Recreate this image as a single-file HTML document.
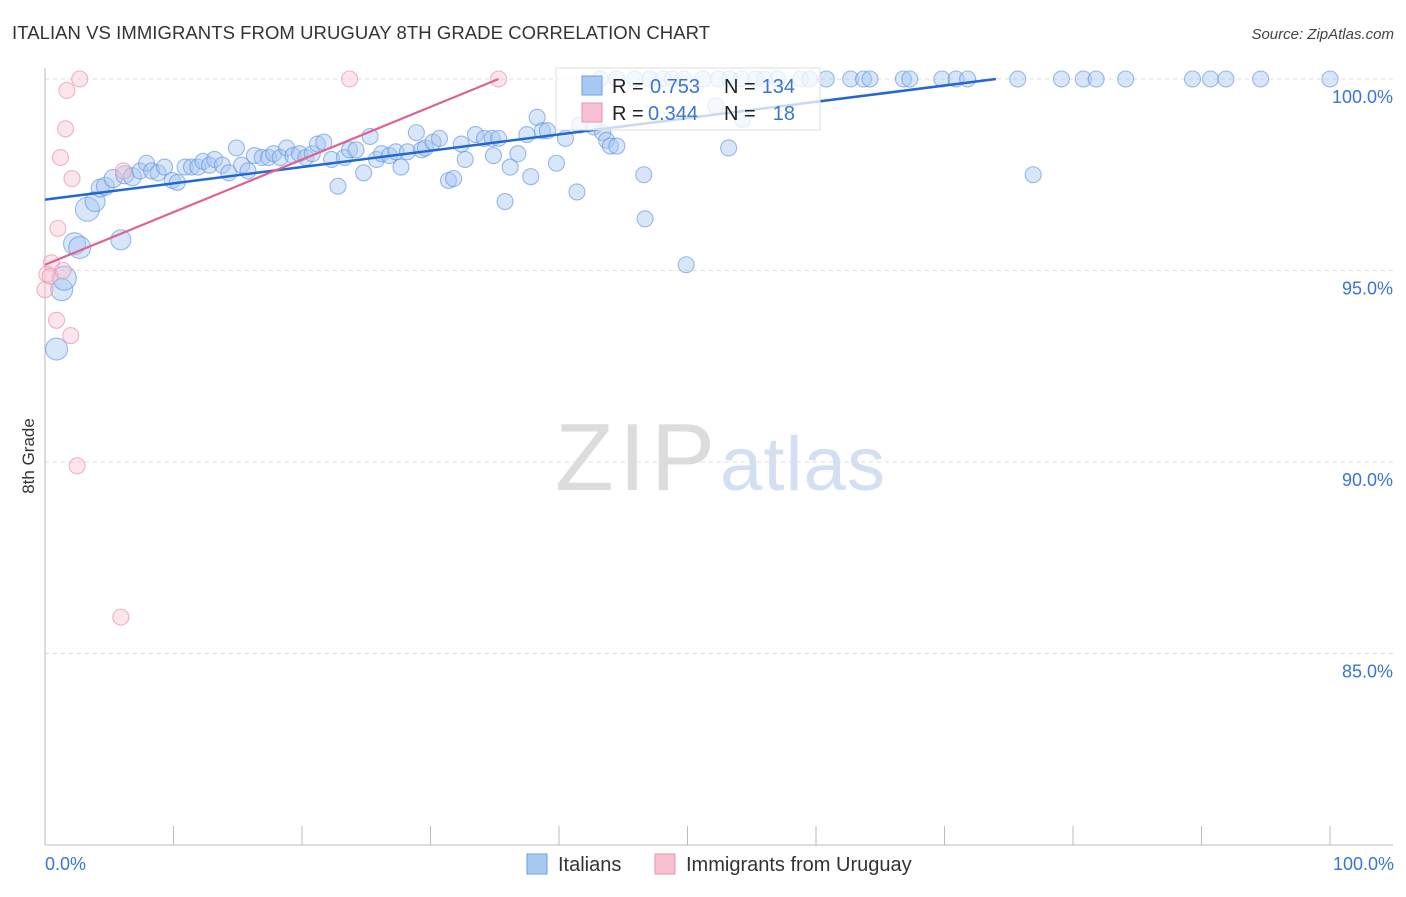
<!DOCTYPE html>
<html><head><meta charset="utf-8"><style>
body{margin:0;background:#fff;font-family:"Liberation Sans",sans-serif}
svg text{font-family:"Liberation Sans",sans-serif}
</style></head><body>
<svg width="1406" height="892" viewBox="0 0 1406 892" xmlns="http://www.w3.org/2000/svg">
<text x="12" y="39" font-size="18.5" fill="#333" textLength="698">ITALIAN VS IMMIGRANTS FROM URUGUAY 8TH GRADE CORRELATION CHART</text>
<text x="1394" y="39" font-size="15" fill="#444" text-anchor="end" font-style="italic">Source: ZipAtlas.com</text>
<text x="555" y="490" font-size="96" fill="#dcdcdc" font-family="Liberation Serif" textLength="160">ZIP</text>
<text x="720" y="490" font-size="76" fill="#d3e0f3" textLength="165">atlas</text>
<g id="grid"></g>
<g id="axes"></g>
<g id="pts"></g>
<g id="trend"></g>
<g>
<rect x="556" y="68" width="264" height="62" fill="#fff" fill-opacity="0.75" stroke="#ddd"/>
<rect x="582" y="76" width="20" height="19" fill="#a9c8f2" stroke="#6b9ee0"/>
<rect x="582" y="103" width="20" height="19" fill="#f8c0d0" stroke="#e895ad"/>
<text x="612" y="93" font-size="20" fill="#222">R =</text>
<text x="650" y="93" font-size="20" fill="#3a74d4">0.753</text>
<text x="724" y="93" font-size="20" fill="#222">N =</text>
<text x="795" y="93" font-size="20" fill="#3a74d4" text-anchor="end">134</text>
<text x="612" y="120" font-size="20" fill="#222">R =</text>
<text x="648" y="120" font-size="20" fill="#3a74d4">0.344</text>
<text x="724" y="120" font-size="20" fill="#222">N =</text>
<text x="795" y="120" font-size="20" fill="#3a74d4" text-anchor="end">18</text>
</g>
<text transform="translate(34,456) rotate(-90)" font-size="17" fill="#333" text-anchor="middle">8th Grade</text>
<text x="45" y="870" font-size="18" fill="#3a74d4">0.0%</text>
<text x="1394" y="870" font-size="18" fill="#3a74d4" text-anchor="end">100.0%</text>
<g>
<rect x="527" y="854" width="20" height="20" fill="#a9c8f2" stroke="#6b9ee0"/>
<text x="558" y="871" font-size="20" fill="#333">Italians</text>
<rect x="655" y="854" width="20" height="20" fill="#f8c0d0" stroke="#e895ad"/>
<text x="686" y="871" font-size="20" fill="#333">Immigrants from Uruguay</text>
</g>
</svg>
<script>
const yTicks=[100,95,90,85];
const yTickLabels=["100.0%","95.0%","90.0%","85.0%"];
const blueX=[0.9,1.3,1.5,2.3,2.7,3.3,3.9,4.3,4.7,5.3,5.9,6.2,6.8,7.4,7.9,8.3,8.8,9.3,9.9,10.3,10.9,11.4,11.9,12.3,12.8,13.2,13.8,14.3,14.9,15.3,15.8,16.3,16.9,17.4,17.8,18.3,18.8,19.3,19.8,20.3,20.8,21.2,21.7,22.3,22.8,23.3,23.7,24.2,24.8,25.3,25.8,26.2,26.8,27.3,27.7,28.2,28.9,29.3,29.6,30.2,30.7,31.4,31.8,32.4,32.7,33.5,34.2,34.8,35.3,34.9,35.8,36.2,36.8,37.5,37.8,38.3,38.7,39.1,39.8,40.5,41.4,41.6,42.7,43.4,43.7,44.0,44.5,46.6,46.7,49.9,53.2,54.3,52.2,76.9,
43.2,44.5,45.9,47.1,48.1,48.8,49.7,51.2,52.4,53.3,54.2,55.3,56.0,57.0,58.8,59.5,60.8,62.7,63.7,64.2,66.8,67.3,69.8,70.9,71.8,75.7,79.1,80.8,81.8,84.1,89.3,90.7,91.9,94.6,100];
const blueY=[92.95,94.5,94.8,95.7,95.6,96.6,96.8,97.15,97.2,97.4,95.8,97.5,97.45,97.6,97.8,97.6,97.55,97.7,97.35,97.3,97.7,97.7,97.7,97.85,97.75,97.9,97.75,97.55,98.2,97.75,97.6,98.0,97.95,97.95,98.05,97.95,98.2,98.0,98.05,97.95,98.05,98.3,98.35,97.9,97.2,97.95,98.15,98.15,97.55,98.5,97.9,98.05,98.0,98.1,97.7,98.1,98.6,98.15,98.2,98.35,98.45,97.35,97.4,98.3,97.9,98.55,98.45,98.45,98.45,98.0,96.8,97.7,98.05,98.55,97.45,99.0,98.65,98.65,97.8,98.45,97.05,98.8,98.75,98.6,98.4,98.25,98.25,97.5,96.35,95.15,98.2,98.95,99.3,97.5,
100,100,100,100,100,100,100,100,100,100,100,100,100,100,100,100,100,100,100,100,100,100,100,100,100,100,100,100,100,100,100,100,100,100,100];
const blueSize=[11,11,12,11,11,12,10,9,9,9,10,9,9,8,8,8,8,8,8,8,8,8,8,8,8,8,8,8,8,8,8,8,8,8,8,8,8,8,8,8,8,8,8,8,8,8,8,8,8,8,8,8,8,8,8,8,8,8,8,8,8,8,8,8,8,8,8,8,8,8,8,8,8,8,8,8,8,8,8,8,8,8,8,8,8,8,8,8,8,8,8,8,8,8];
const pinkX=[2.7,1.7,1.6,1.2,2.1,1.0,6.1,0.5,0.15,0.4,1.4,0,0.9,2.0,2.5,5.9,23.7,35.3];
const pinkY=[100,99.7,98.7,97.95,97.4,96.1,97.6,95.2,94.9,94.85,95.0,94.5,93.7,93.3,89.9,85.95,100,100];
const blueTrend=[[0,96.85],[74,100]];
const pinkTrend=[[0,95.15],[35.3,100]];
const NS="http://www.w3.org/2000/svg";
const xs=v=>45+v*12.85, ys=v=>79+(100-v)*38.3;
function mk(t,a,p){const e=document.createElementNS(NS,t);for(const k in a)e.setAttribute(k,a[k]);p.appendChild(e);return e;}
const grid=document.getElementById('grid'),axes=document.getElementById('axes'),pts=document.getElementById('pts'),trend=document.getElementById('trend');
yTicks.forEach((t,i)=>{
 const l=mk('line',{x1:45,x2:1393,y1:ys(t),y2:ys(t),stroke:'#ddd','stroke-dasharray':'4,4'},grid);
 
 
 const tx=mk('text',{x:1393,y:ys(t)+24,'font-size':18,fill:'#3a74d4','text-anchor':'end'},grid);
 tx.textContent=yTickLabels[i];
 
 
});
const ya=mk('line',{x1:45,x2:45,y1:68,y2:845,stroke:'#bbb'},axes);


const xa=mk('line',{x1:45,x2:1393,y1:845,y2:845,stroke:'#bbb'},axes);


for(let i=0;i<=10;i++){const t=mk('line',{x1:xs(i*10),x2:xs(i*10),y1:826,y2:845,stroke:'#bbb'},axes);
 
 }
blueX.forEach((x,i)=>{const c=mk('circle',{cx:xs(x),cy:ys(blueY[i]),r:blueSize[i]||8,fill:'#a9c8f2','fill-opacity':0.45,stroke:'#5b8fdc','stroke-opacity':0.6,'stroke-width':1.1},pts);
 
 });
pinkX.forEach((x,i)=>{const c=mk('circle',{cx:xs(x),cy:ys(pinkY[i]),r:8,fill:'#f8c0d0','fill-opacity':0.4,stroke:'#e895ad','stroke-opacity':0.7,'stroke-width':1.1},pts);
 
 });
const bt=mk('line',{x1:xs(blueTrend[0][0]),y1:ys(blueTrend[0][1]),x2:xs(blueTrend[1][0]),y2:ys(blueTrend[1][1]),stroke:'#2268d4','stroke-width':2.5},trend);


const pt=mk('line',{x1:xs(pinkTrend[0][0]),y1:ys(pinkTrend[0][1]),x2:xs(pinkTrend[1][0]),y2:ys(pinkTrend[1][1]),stroke:'#e0628e','stroke-width':2.2},trend);


</script>
</body></html>
